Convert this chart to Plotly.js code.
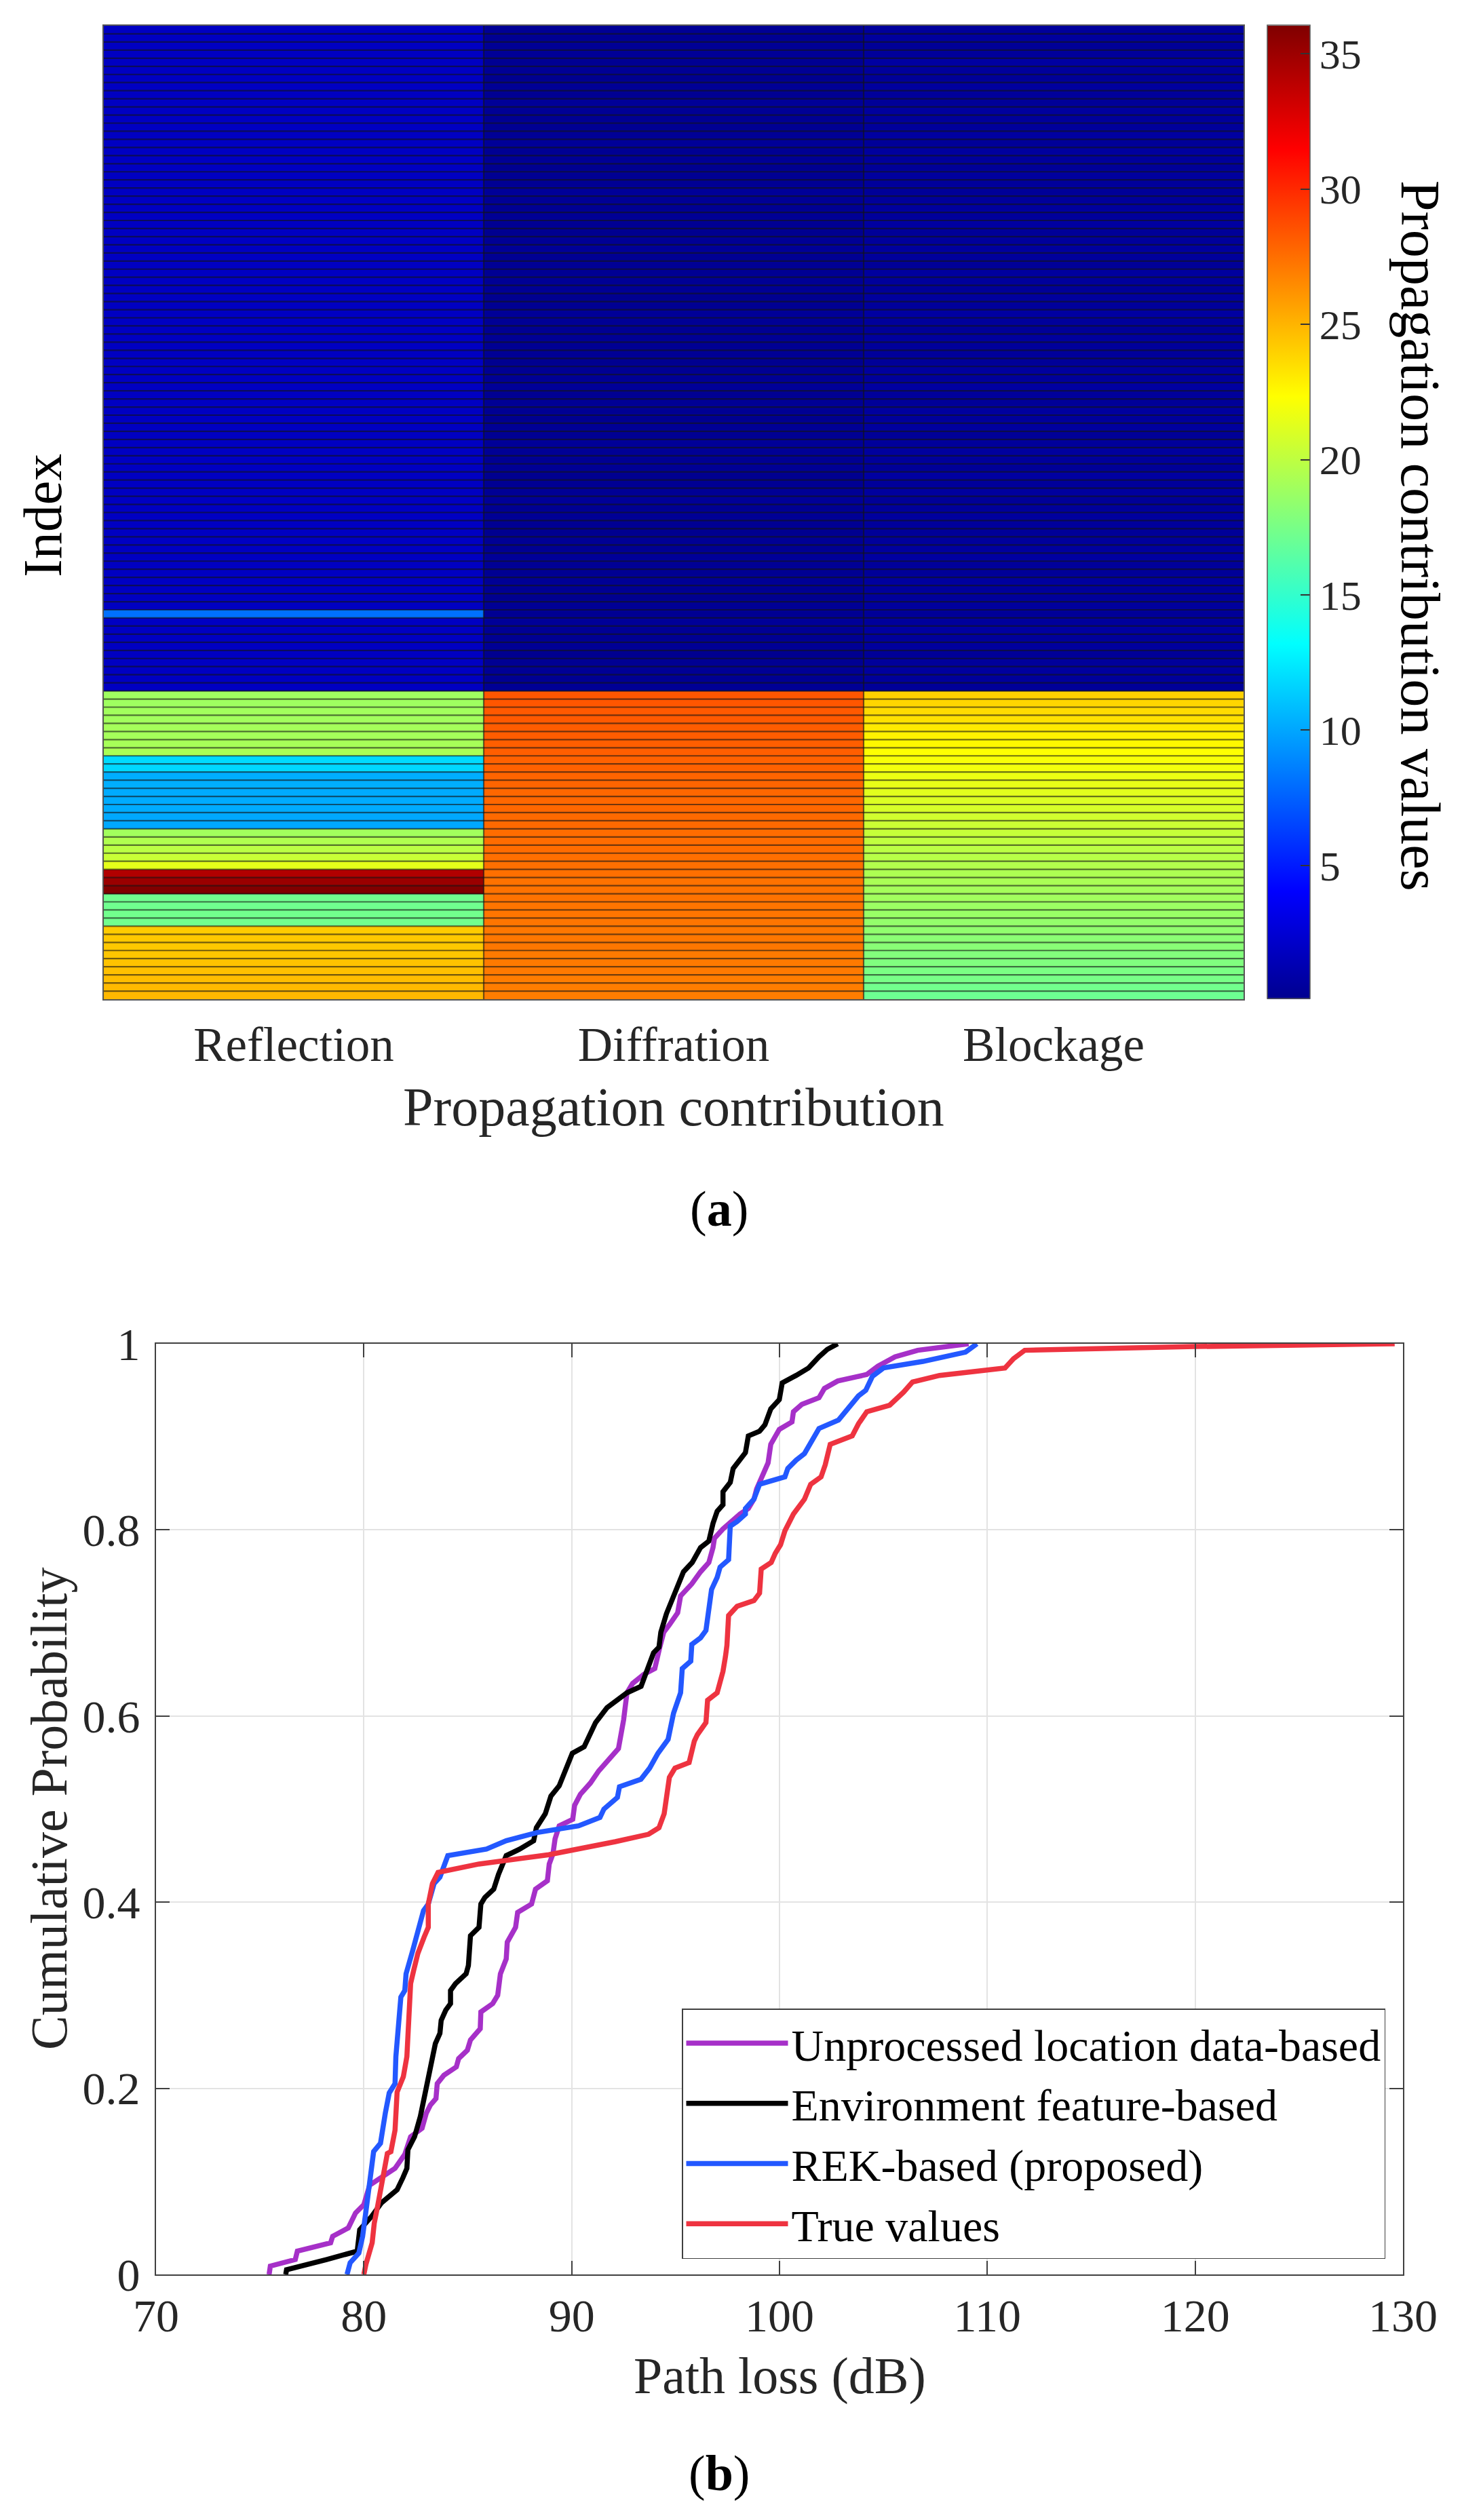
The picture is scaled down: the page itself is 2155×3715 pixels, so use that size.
<!DOCTYPE html>
<html>
<head>
<meta charset="utf-8">
<script src="https://cdn.plot.ly/plotly-3.0.1.min.js"></script>
<style>
  html, body { margin: 0; padding: 0; background: #ffffff; }
  #chartDiv { width: 2155px; height: 3715px; }
</style>
</head>
<body>
<div id="chartDiv"></div>
<script>
"use strict";

// ---- (a) heatmap data, one value per row (row 1 = top) ----
const contributionNames = ["Reflection", "Diffration", "Blockage"];

const reflectionUpper = [
    1.9, 1.9, 1.9, 1.9, 1.9, 1.9, 1.9, 1.9, 1.9, 1.9,
    1.9, 1.9, 1.9, 1.9, 1.9, 1.9, 1.9, 1.9, 1.9, 1.9,
    1.9, 1.9, 1.9, 1.9, 1.9, 1.9, 1.9, 1.9, 1.9, 1.9,
    1.9, 1.9, 1.9, 1.9, 1.9, 1.9, 1.9, 1.9, 1.9, 1.9,
    1.9, 1.9, 1.9, 1.9, 1.9, 1.9, 1.9, 1.9, 1.9, 1.9,
    1.9, 1.9, 1.9, 1.9, 1.9, 1.9, 1.9, 1.9, 1.9, 1.9,
    1.9, 1.9, 1.9, 1.9, 1.9, 1.9, 1.9, 1.9, 1.9, 1.9,
    1.9, 1.9, 8.1, 1.9, 1.9, 1.9, 1.9, 1.9, 1.9, 1.9,
    1.9, 1.9
];
const reflectionLower = [
    18.9, 18.9, 19.0, 19.0, 19.1, 19.1, 19.2, 19.3,
    11.9, 11.8,
    10.3, 10.3, 10.2, 10.2, 10.2, 10.1, 10.1,
    19.0, 19.5, 19.9, 20.4,
    21.4,
    34.3, 35.1, 36.0,
    17.2, 17.2, 17.3, 17.3,
    24.2, 24.3, 24.3, 24.4, 24.5, 24.6, 24.7, 24.8, 24.9
];

const diffractionUpper = [
    0.3, 0.2, 0.3, 0.4, 0.2, 0.3, 0.1, 0.3, 0.2, 0.4,
    0.3, 0.2, 0.2, 0.3, 0.4, 0.2, 0.3, 0.1, 0.2, 0.3,
    0.4, 0.3, 0.2, 0.3, 0.2, 0.1, 0.3, 0.4, 0.2, 0.3,
    0.2, 0.3, 0.3, 0.1, 0.2, 0.4, 0.3, 0.2, 0.3, 0.2,
    0.3, 0.1, 0.2, 0.3, 0.4, 0.2, 0.3, 0.2, 0.1, 0.3,
    0.2, 0.4, 0.3, 0.2, 0.3, 0.1, 0.2, 0.3, 0.4, 0.2,
    0.3, 0.2, 0.1, 0.3, 0.2, 0.4, 0.3, 0.2, 0.3, 0.2,
    0.1, 0.3, 0.2, 0.4, 0.3, 0.2, 0.3, 0.1, 0.2, 0.3,
    0.2, 0.3
];
const diffractionLower = [
    28.4, 28.4, 28.3, 28.3, 28.2, 28.2, 28.1, 28.1, 28.0, 28.0,
    27.9, 27.9, 27.8, 27.8, 27.8, 27.7, 27.7, 27.6, 27.6, 27.6,
    27.5, 27.5, 27.5, 27.4, 27.4, 27.4, 27.3, 27.3, 27.3, 27.2,
    27.2, 27.2, 27.1, 27.1, 27.1, 27.0, 27.0, 27.0
];

const blockageUpper = [
    0.5, 0.6, 0.4, 0.5, 0.7, 0.5, 0.4, 0.6, 0.5, 0.4,
    0.6, 0.5, 0.5, 0.7, 0.4, 0.6, 0.5, 0.4, 0.6, 0.5,
    0.4, 0.5, 0.6, 0.5, 0.7, 0.4, 0.5, 0.6, 0.5, 0.4,
    0.6, 0.5, 0.4, 0.6, 0.5, 0.7, 0.5, 0.4, 0.6, 0.5,
    0.5, 0.4, 0.6, 0.5, 0.7, 0.5, 0.4, 0.6, 0.5, 0.6,
    0.4, 0.5, 0.6, 0.5, 0.4, 0.7, 0.5, 0.6, 0.4, 0.5,
    0.6, 0.5, 0.4, 0.5, 0.6, 0.7, 0.5, 0.4, 0.6, 0.5,
    0.5, 0.6, 0.4, 0.5, 0.7, 0.5, 0.6, 0.4, 0.5, 0.6,
    0.5, 0.4
];
const blockageLower = [
    24.0, 23.8, 23.6, 23.4, 23.1, 22.8, 22.6, 22.3, 22.1, 21.9,
    21.7, 21.5, 21.3, 21.1, 20.9, 20.7, 20.5, 20.3, 20.1, 19.9,
    19.8, 19.6, 19.4, 19.3, 19.1, 19.0, 18.8, 18.7, 18.5, 18.4,
    18.2, 18.1, 17.9, 17.8, 17.6, 17.5, 17.3, 17.1
];

const colorbarTicks = [5, 10, 15, 20, 25, 30, 35];

// ---- (b) CDF curves: path loss (dB) and cumulative probability ----
const unprocessedX = [75.44, 75.5, 76.7, 76.8, 78.4, 78.5, 79.25, 79.6, 80.0, 80.28, 81.5, 81.97, 82.25, 82.8, 83.0, 83.2, 83.47, 83.53, 83.85, 84.45, 84.56, 84.98, 85.13, 85.6, 85.63, 86.2, 86.44, 86.57, 86.85, 86.9, 87.3, 87.4, 88.07, 88.26, 88.83, 88.92, 89.1, 89.2, 89.4, 90.05, 90.14, 90.42, 90.9, 91.3, 92.25, 92.5, 92.66, 92.93, 93.48, 94.0, 94.24, 94.43, 94.7, 95.1, 95.24, 95.78, 96.2, 96.6, 96.8, 96.87, 97.28, 97.68, 98.1, 98.5, 98.77, 98.9, 99.04, 99.3, 99.45, 99.58, 99.99, 100.6, 100.67, 101.08, 101.9, 102.16, 102.8, 104.2, 104.74, 105.56, 106.65, 109.1];
const unprocessedY = [0, 0.009, 0.016, 0.025, 0.034, 0.041, 0.05, 0.066, 0.075, 0.096, 0.114, 0.129, 0.148, 0.157, 0.173, 0.182, 0.189, 0.205, 0.214, 0.223, 0.232, 0.241, 0.252, 0.264, 0.282, 0.291, 0.3, 0.323, 0.339, 0.357, 0.373, 0.389, 0.398, 0.414, 0.423, 0.441, 0.452, 0.468, 0.482, 0.489, 0.504, 0.516, 0.528, 0.541, 0.565, 0.596, 0.625, 0.635, 0.645, 0.651, 0.674, 0.69, 0.698, 0.711, 0.729, 0.742, 0.755, 0.765, 0.781, 0.791, 0.801, 0.809, 0.817, 0.823, 0.833, 0.844, 0.851, 0.862, 0.872, 0.892, 0.908, 0.916, 0.927, 0.935, 0.942, 0.952, 0.96, 0.967, 0.976, 0.986, 0.993, 1.0];

const environmentX = [76.24, 76.28, 78.2, 79.68, 79.8, 80.38, 80.85, 81.6, 81.88, 82.07, 82.12, 82.44, 82.72, 82.9, 83.1, 83.29, 83.44, 83.66, 83.72, 83.94, 84.17, 84.17, 84.41, 84.92, 85.03, 85.13, 85.54, 85.63, 85.82, 86.25, 86.48, 86.85, 87.5, 88.17, 88.3, 88.73, 89.0, 89.4, 90.03, 90.6, 91.15, 91.7, 92.66, 93.34, 93.6, 93.94, 94.2, 94.29, 94.56, 94.97, 95.38, 95.8, 96.2, 96.6, 96.8, 97.0, 97.28, 97.28, 97.63, 97.77, 98.36, 98.5, 99.04, 99.3, 99.58, 99.99, 100.13, 100.8, 101.4, 101.9, 102.3, 102.8];
const environmentY = [0, 0.005, 0.016, 0.025, 0.048, 0.0625, 0.077, 0.091, 0.104, 0.114, 0.134, 0.148, 0.17, 0.191, 0.2125, 0.234, 0.248, 0.259, 0.273, 0.284, 0.291, 0.305, 0.3125, 0.323, 0.332, 0.364, 0.373, 0.398, 0.405, 0.414, 0.43, 0.45, 0.457, 0.466, 0.48, 0.495, 0.514, 0.525, 0.56, 0.567, 0.593, 0.609, 0.625, 0.632, 0.648, 0.668, 0.674, 0.69, 0.71, 0.732, 0.755, 0.765, 0.781, 0.788, 0.807, 0.82, 0.827, 0.841, 0.851, 0.866, 0.883, 0.901, 0.906, 0.913, 0.93, 0.94, 0.958, 0.966, 0.974, 0.986, 0.994, 1.0];

const rekX = [79.19, 79.34, 79.76, 79.94, 80.13, 80.28, 80.47, 80.8, 80.88, 81.03, 81.22, 81.5, 81.54, 81.78, 81.97, 82.03, 82.35, 82.63, 82.87, 83.1, 83.38, 83.66, 83.98, 84.04, 85.9, 86.85, 88.36, 90.33, 91.36, 91.55, 92.2, 92.3, 93.33, 93.75, 94.15, 94.37, 94.64, 94.9, 95.24, 95.32, 95.73, 95.78, 96.2, 96.46, 96.6, 96.73, 97.0, 97.14, 97.55, 97.63, 97.96, 98.36, 98.36, 98.77, 99.04, 100.26, 100.4, 100.8, 101.2, 101.5, 101.9, 102.84, 103.5, 103.8, 104.15, 104.47, 105.0, 106.9, 108.95, 109.5];
const rekY = [0, 0.0125, 0.023, 0.041, 0.073, 0.098, 0.132, 0.141, 0.155, 0.173, 0.195, 0.205, 0.234, 0.298, 0.305, 0.323, 0.348, 0.37, 0.391, 0.398, 0.42, 0.427, 0.446, 0.45, 0.457, 0.466, 0.475, 0.482, 0.491, 0.5, 0.5125, 0.524, 0.532, 0.544, 0.56, 0.567, 0.575, 0.603, 0.625, 0.651, 0.659, 0.677, 0.684, 0.692, 0.716, 0.736, 0.749, 0.76, 0.768, 0.804, 0.809, 0.817, 0.823, 0.833, 0.849, 0.857, 0.866, 0.875, 0.882, 0.893, 0.909, 0.918, 0.937, 0.944, 0.95, 0.965, 0.974, 0.981, 0.991, 1.0];

const trueX = [80.0, 80.1, 80.4, 80.5, 80.66, 81.13, 81.3, 81.5, 81.6, 81.9, 82.07, 82.16, 82.25, 82.4, 82.6, 82.9, 83.1, 83.1, 83.3, 83.57, 85.54, 88.9, 90.4, 92.1, 93.7, 94.2, 94.45, 94.55, 94.7, 94.97, 95.65, 95.9, 96.05, 96.46, 96.54, 97.0, 97.28, 97.4, 97.47, 97.55, 97.96, 98.77, 99.04, 99.12, 99.6, 99.8, 100.05, 100.26, 100.67, 101.2, 101.5, 102.0, 102.2, 102.44, 103.5, 103.8, 104.2, 105.3, 105.97, 106.4, 107.7, 110.85, 111.26, 111.8, 120, 129.6];
const trueY = [0, 0.011, 0.034, 0.055, 0.073, 0.13, 0.132, 0.155, 0.196, 0.2125, 0.234, 0.277, 0.3125, 0.327, 0.345, 0.3625, 0.373, 0.398, 0.42, 0.432, 0.441, 0.451, 0.457, 0.465, 0.473, 0.48, 0.495, 0.509, 0.534, 0.544, 0.55, 0.573, 0.58, 0.593, 0.617, 0.625, 0.648, 0.664, 0.676, 0.708, 0.718, 0.724, 0.732, 0.758, 0.765, 0.775, 0.784, 0.799, 0.817, 0.833, 0.849, 0.857, 0.87, 0.892, 0.901, 0.914, 0.927, 0.934, 0.948, 0.959, 0.966, 0.974, 0.984, 0.993, 0.997, 1.0];

const seriesNames = ["Unprocessed location data-based", "Environment feature-based", "REK-based (proposed)", "True values"];
const seriesColors = ["#A630C8", "#000000", "#2358FF", "#EE3340"];

// ---- build ----
const serif = "Liberation Serif, Times New Roman, serif";
const textColor = "#262626";

const reflection = reflectionUpper.concat(reflectionLower);
const diffraction = diffractionUpper.concat(diffractionLower);
const blockage = blockageUpper.concat(blockageLower);

var heatZ = [];
var rowIndex = [];
for (var i = 0; i < reflection.length; i++) {
    heatZ.push([reflection[i], diffraction[i], blockage[i]]);
    rowIndex.push(i + 1);
}
const rowCount = rowIndex.length;

// dark cell edges, like the edge lines of the original cells
var edgeX = [];
var edgeY = [];
for (var k = 1; k < rowCount; k++) {
    edgeX.push(-0.5, 2.5, null);
    edgeY.push(k + 0.5, k + 0.5, null);
}
for (var c = 1; c < contributionNames.length; c++) {
    edgeX.push(c - 0.5, c - 0.5, null);
    edgeY.push(0.5, rowCount + 0.5, null);
}

const jet = [
    [0, "#00008F"],
    [0.111, "#0000FF"],
    [0.365, "#00FFFF"],
    [0.619, "#FFFF00"],
    [0.873, "#FF0000"],
    [1, "#800000"]
];

var heatmapTrace = {
    type: "heatmap",
    x: [0, 1, 2],
    y: rowIndex,
    z: heatZ,
    xaxis: "x",
    yaxis: "y",
    colorscale: jet,
    zmin: 0.07,
    zmax: 36.05,
    hoverinfo: "skip",
    colorbar: {
        x: 1868 / 2155,
        xanchor: "left",
        xpad: 0,
        ypad: 0,
        y: 1 - 755 / 3715,
        yanchor: "middle",
        len: 1435,
        lenmode: "pixels",
        thickness: 63,
        thicknessmode: "pixels",
        outlinewidth: 1.5,
        outlinecolor: "#555555",
        tickvals: colorbarTicks,
        ticks: "inside",
        ticklen: 14,
        tickwidth: 2,
        tickcolor: "#333333",
        tickfont: { family: serif, size: 62, color: textColor }
    }
};

var edgeTrace = {
    type: "scatter",
    mode: "lines",
    x: edgeX,
    y: edgeY,
    xaxis: "x",
    yaxis: "y",
    line: { color: "rgba(20,20,20,0.6)", width: 2.2 },
    hoverinfo: "skip",
    showlegend: false
};

const cdfX = [unprocessedX, environmentX, rekX, trueX];
const cdfY = [unprocessedY, environmentY, rekY, trueY];
var cdfTraces = [];
for (var s = 0; s < seriesNames.length; s++) {
    cdfTraces.push({
        type: "scatter",
        mode: "lines",
        name: seriesNames[s],
        x: cdfX[s],
        y: cdfY[s],
        xaxis: "x2",
        yaxis: "y2",
        line: { color: seriesColors[s], width: 7.5 }
    });
}

var layout = {
    width: 2155,
    height: 3715,
    margin: { l: 0, r: 0, t: 0, b: 0 },
    paper_bgcolor: "#ffffff",
    plot_bgcolor: "#ffffff",
    font: { family: serif, color: textColor },
    showlegend: true,
    xaxis: {
        domain: [153 / 2155, 1833 / 2155],
        anchor: "y",
        range: [-0.5, 2.5],
        tickvals: [0, 1, 2],
        ticktext: contributionNames,
        ticks: "",
        showgrid: false,
        zeroline: false,
        showline: true,
        mirror: true,
        linecolor: "#555555",
        linewidth: 1.5,
        ticklabelstandoff: 4,
        tickfont: { family: serif, size: 71, color: textColor }
    },
    yaxis: {
        domain: [1 - 1473 / 3715, 1 - 38 / 3715],
        anchor: "x",
        range: [rowCount + 0.5, 0.5],
        showticklabels: false,
        ticks: "",
        showgrid: false,
        zeroline: false,
        showline: true,
        mirror: true,
        linecolor: "#555555",
        linewidth: 1.5
    },
    xaxis2: {
        domain: [230 / 2155, 2068 / 2155],
        anchor: "y2",
        range: [70, 130],
        dtick: 10,
        ticks: "inside",
        ticklen: 20,
        tickwidth: 2,
        tickcolor: "#404040",
        showline: true,
        mirror: "ticks",
        linecolor: "#404040",
        linewidth: 2,
        showgrid: true,
        gridcolor: "#E3E3E3",
        gridwidth: 1.5,
        zeroline: false,
        ticklabelstandoff: 0,
        tickfont: { family: serif, size: 68, color: textColor }
    },
    yaxis2: {
        domain: [1 - 3353 / 3715, 1 - 1981 / 3715],
        anchor: "x2",
        range: [0, 1],
        dtick: 0.2,
        ticks: "inside",
        ticklen: 20,
        tickwidth: 2,
        tickcolor: "#404040",
        showline: true,
        mirror: "ticks",
        linecolor: "#404040",
        linewidth: 2,
        showgrid: true,
        gridcolor: "#E3E3E3",
        gridwidth: 1.5,
        zeroline: false,
        ticklabelstandoff: 8,
        tickfont: { family: serif, size: 68, color: textColor }
    },
    legend: {
        x: 2042 / 2155,
        xanchor: "right",
        y: 1 - 3330 / 3715,
        yanchor: "bottom",
        bgcolor: "#ffffff",
        bordercolor: "#404040",
        borderwidth: 1.5,
        itemwidth: 150,
        font: { family: serif, size: 66, color: "#000000" }
    },
    annotations: [
        {
            text: "Index", xref: "paper", yref: "paper",
            x: 63 / 2155, y: 1 - 760 / 3715, xanchor: "center", yanchor: "middle",
            textangle: -90, showarrow: false,
            font: { family: serif, size: 80, color: "#000000" }
        },
        {
            text: "Propagation contribution", xref: "paper", yref: "paper",
            x: 993 / 2155, y: 1 - 1632 / 3715, xanchor: "center", yanchor: "middle",
            showarrow: false,
            font: { family: serif, size: 80, color: textColor }
        },
        {
            text: "Propagation contribution values", xref: "paper", yref: "paper",
            x: 2094 / 2155, y: 1 - 790 / 3715, xanchor: "center", yanchor: "middle",
            textangle: 90, showarrow: false,
            font: { family: serif, size: 82, color: "#000000" }
        },
        {
            text: "(<b>a</b>)", xref: "paper", yref: "paper",
            x: 1060 / 2155, y: 1 - 1782 / 3715, xanchor: "center", yanchor: "middle",
            showarrow: false,
            font: { family: serif, size: 74, color: "#000000" }
        },
        {
            text: "Cumulative Probability", xref: "paper", yref: "paper",
            x: 72 / 2155, y: 1 - 2667 / 3715, xanchor: "center", yanchor: "middle",
            textangle: -90, showarrow: false,
            font: { family: serif, size: 76, color: textColor }
        },
        {
            text: "Path loss (dB)", xref: "paper", yref: "paper",
            x: 1149 / 2155, y: 1 - 3502 / 3715, xanchor: "center", yanchor: "middle",
            showarrow: false,
            font: { family: serif, size: 76, color: textColor }
        },
        {
            text: "(<b>b</b>)", xref: "paper", yref: "paper",
            x: 1060 / 2155, y: 1 - 3646 / 3715, xanchor: "center", yanchor: "middle",
            showarrow: false,
            font: { family: serif, size: 74, color: "#000000" }
        }
    ]
};

var data = [heatmapTrace, edgeTrace].concat(cdfTraces);

Plotly.newPlot("chartDiv", data, layout, { displayModeBar: false, responsive: false });
</script>
</body>
</html>
